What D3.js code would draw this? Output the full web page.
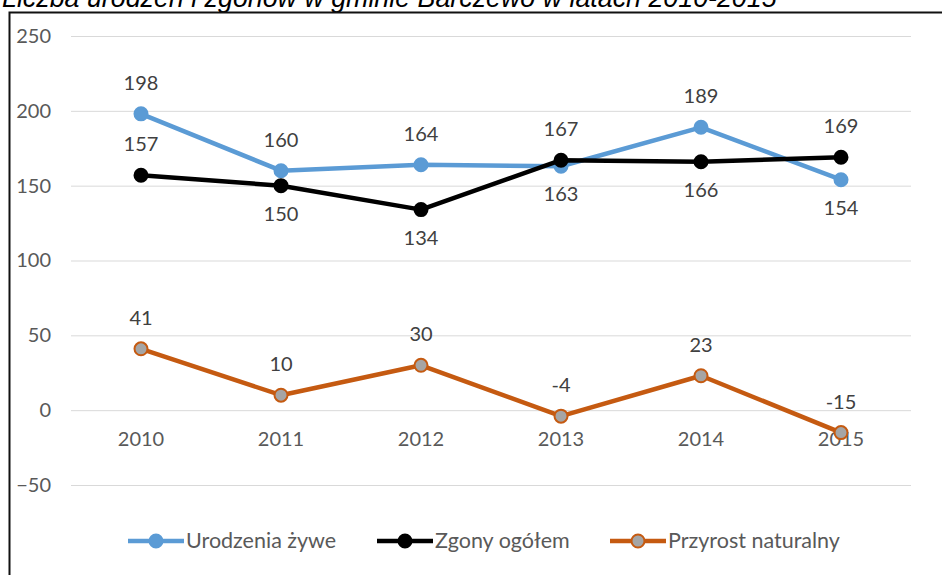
<!DOCTYPE html>
<html>
<head>
<meta charset="utf-8">
<script src="https://cdn.jsdelivr.net/npm/d3@7"></script>
<style>
  body { margin: 0; background: #fff; }
  svg { display: block; }
</style>
</head>
<body>
<div id="chart"></div>
<script>
const years = ['2010', '2011', '2012', '2013', '2014', '2015'];
const urodzenia = [198, 160, 164, 163, 189, 154];
const zgony = [157, 150, 134, 167, 166, 169];
const przyrost = [41, 10, 30, -4, 23, -15];
const yTicks = [-50, 0, 50, 100, 150, 200, 250];
const seriesNames = ['Urodzenia żywe', 'Zgony ogółem', 'Przyrost naturalny'];
// label above (-1) or below (1) the point
const urodzeniaPos = [-1, -1, -1, 1, -1, 1];
const zgonyPos = [-1, 1, 1, -1, 1, -1];
const przyrostPos = [-1, -1, -1, -1, -1, -1];

const width = 942;
const height = 575;
const font = 'Lato, "Open Sans", sans-serif';

const svg = d3.select('#chart').append('svg')
    .attr('width', width)
    .attr('height', height);

// title (cut at the top in the original)
svg.append('text')
    .attr('x', 2)
    .attr('y', 7)
    .attr('font-family', '"Liberation Sans", Arial, sans-serif')
    .attr('font-style', 'italic')
    .attr('font-size', 26.8)
    .attr('fill', '#000')
    .text('Liczba urodzeń i zgonów w gminie Barczewo w latach 2010-2015');

// frame
svg.append('path')
    .attr('d', `M9.5,${height}V12.5H${width}`)
    .attr('fill', 'none')
    .attr('stroke', '#111')
    .attr('stroke-width', 2);

const x = d3.scaleBand()
    .domain(years)
    .range([71, 911]);

const y = d3.scaleLinear()
    .domain([-50, 250])
    .range([485, 36]);

const cx = (d) => x(d) + x.bandwidth() / 2;

// gridlines + y labels
const yAxis = d3.axisLeft(y)
    .tickValues(yTicks)
    .tickSize(-(911 - 71))
    .tickPadding(20);
const gy = svg.append('g')
    .attr('transform', 'translate(71,0)')
    .call(yAxis);
gy.select('.domain').remove();
gy.selectAll('.tick line').attr('stroke', '#d9d9d9');
gy.selectAll('.tick text')
    .attr('font-family', font)
    .attr('font-size', 20)
    .attr('fill', '#595959');

// x labels along zero line
const xAxis = d3.axisBottom(x)
    .tickSize(0)
    .tickPadding(22);
const gx = svg.append('g')
    .attr('transform', `translate(0,${y(0)})`)
    .call(xAxis);
gx.select('.domain').remove();
gx.selectAll('.tick text')
    .attr('font-family', font)
    .attr('font-size', 20)
    .attr('fill', '#595959');

const series = [
    { name: seriesNames[0], values: urodzenia, pos: urodzeniaPos, color: '#5b9bd5', fill: '#5b9bd5' },
    { name: seriesNames[1], values: zgony, pos: zgonyPos, color: '#000000', fill: '#000000' },
    { name: seriesNames[2], values: przyrost, pos: przyrostPos, color: '#c55a11', fill: '#a5a5a5' }
];

const line = d3.line()
    .x((d, i) => cx(years[i]))
    .y((d) => y(d));

series.forEach((s) => {
    const g = svg.append('g');
    g.append('path')
        .attr('d', line(s.values))
        .attr('fill', 'none')
        .attr('stroke', s.color)
        .attr('stroke-width', 4.5)
        .attr('stroke-linejoin', 'round');
    g.selectAll('circle')
        .data(s.values)
        .enter()
        .append('circle')
        .attr('cx', (d, i) => cx(years[i]))
        .attr('cy', (d) => y(d))
        .attr('r', 6.5)
        .attr('fill', s.fill)
        .attr('stroke', s.color)
        .attr('stroke-width', 2);
    g.selectAll('text')
        .data(s.values)
        .enter()
        .append('text')
        .attr('x', (d, i) => cx(years[i]))
        .attr('y', (d, i) => y(d) + (s.pos[i] < 0 ? -24 : 35))
        .attr('text-anchor', 'middle')
        .attr('font-family', font)
        .attr('font-size', 20)
        .attr('fill', '#404040')
        .text((d) => d);
});

// legend
const legendX = [128, 377, 610];
const legendY = 541;
series.forEach((s, i) => {
    const lg = svg.append('g')
        .attr('transform', `translate(${legendX[i]},${legendY})`);
    lg.append('line')
        .attr('x1', 0)
        .attr('x2', 56)
        .attr('stroke', s.color)
        .attr('stroke-width', 4.5);
    lg.append('circle')
        .attr('cx', 28)
        .attr('r', 6.5)
        .attr('fill', s.fill)
        .attr('stroke', s.color)
        .attr('stroke-width', 2);
    lg.append('text')
        .attr('x', 58)
        .attr('y', 7)
        .attr('font-family', font)
        .attr('font-size', 21.5)
        .attr('fill', '#595959')
        .text(s.name);
});
</script>
</body>
</html>
